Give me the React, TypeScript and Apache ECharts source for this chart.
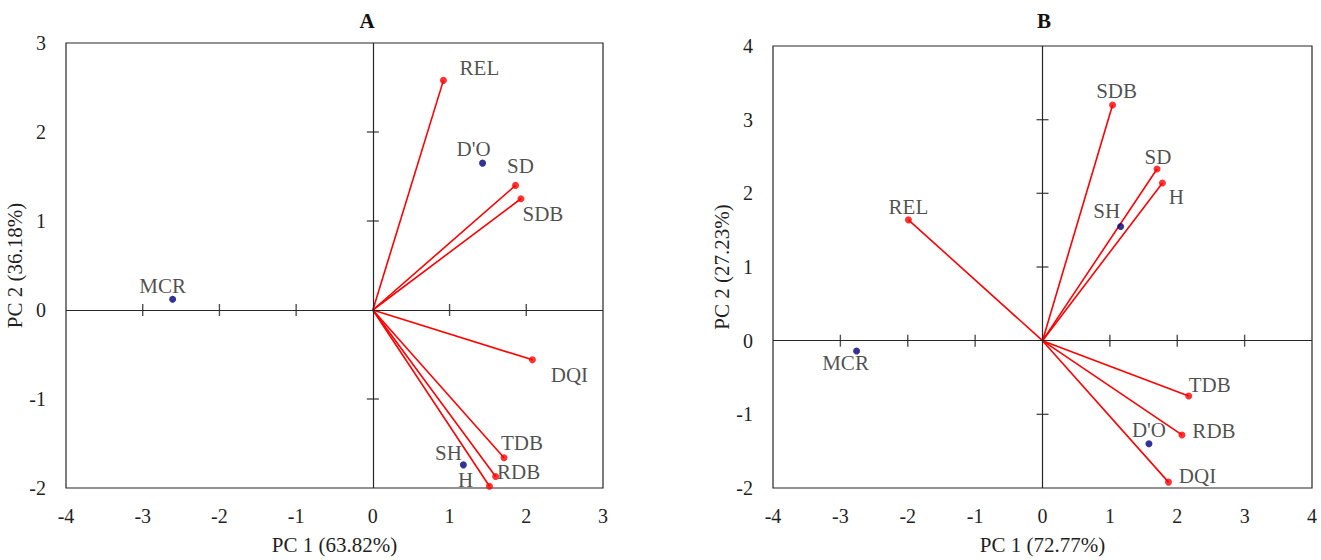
import { useEffect, useRef } from 'react';
import * as echarts from 'echarts';

// Panel A data
const varNamesA = ['REL', 'SD', 'SDB', 'DQI', 'TDB', 'RDB', 'H'];
const varPC1A = [0.92, 1.86, 1.93, 2.08, 1.71, 1.6, 1.52];
const varPC2A = [2.58, 1.4, 1.25, -0.56, -1.66, -1.87, -1.98];
const objNamesA = ["D'O", 'SH', 'MCR'];
const objPC1A = [1.43, 1.18, -2.61];
const objPC2A = [1.65, -1.74, 0.12];

// Panel B data
const varNamesB = ['SDB', 'SD', 'H', 'REL', 'TDB', 'RDB', 'DQI'];
const varPC1B = [1.04, 1.7, 1.78, -1.99, 2.17, 2.07, 1.87];
const varPC2B = [3.2, 2.33, 2.14, 1.64, -0.75, -1.28, -1.92];
const objNamesB = ['SH', "D'O", 'MCR'];
const objPC1B = [1.16, 1.58, -2.76];
const objPC2B = [1.55, -1.4, -0.14];

// Tick marks on the zero axes
const xTicksA = [-3, -2, -1, 1, 2];
const yTicksA = [2, 1, -1];
const xTicksB = [-3, -2, -1, 1, 2, 3];
const yTicksB = [3, 2, 1, -1];

// label offsets (style)
const offA: Record<string, number[]> = {
  REL: [36, -12], SD: [5, -19], SDB: [22, 15], DQI: [37, 15], TDB: [18, -15], RDB: [23, -4], H: [-24, -6],
  "D'O": [-9, -14], SH: [-15, -12], MCR: [-10, -13],
};
const offB: Record<string, number[]> = {
  SDB: [4, -14], SD: [1, -12], H: [14, 14], REL: [0, -13], TDB: [21, -11], RDB: [32, -4], DQI: [29, -6],
  SH: [-14, -15], "D'O": [0, -14], MCR: [-11, 12],
};

const FONT = '"Liberation Serif", "Times New Roman", serif';
const TXT = '#1f1f1f';
const LINE = '#262626';

function panelSeries(
  gi: number,
  vn: string[], vx: number[], vy: number[],
  on: string[], ox: number[], oy: number[],
  xt: number[], yt: number[],
  off: Record<string, number[]>
) {
  const labelBase = {
    show: true,
    formatter: '{b}',
    position: ['50%', '50%'],
    align: 'center',
    verticalAlign: 'middle',
    fontFamily: FONT,
    fontSize: 21,
    color: TXT,
  };
  return [
    {
      type: 'scatter',
      xAxisIndex: gi, yAxisIndex: gi,
      symbol: 'rect', symbolSize: [1.4, 12],
      itemStyle: { color: LINE },
      silent: true, z: 2,
      data: xt.map((v) => [v, 0]),
      markLine: {
        silent: true,
        symbol: ['none', 'none'],
        label: { show: false },
        lineStyle: { color: LINE, type: 'solid', width: 1.2 },
        data: [{ xAxis: 0 }, { yAxis: 0 }],
      },
    },
    {
      type: 'scatter',
      xAxisIndex: gi, yAxisIndex: gi,
      symbol: 'rect', symbolSize: [12, 1.4],
      itemStyle: { color: LINE },
      silent: true, z: 2,
      data: yt.map((v) => [0, v]),
    },
    {
      type: 'lines',
      coordinateSystem: 'cartesian2d',
      xAxisIndex: gi, yAxisIndex: gi,
      silent: true, z: 3,
      lineStyle: { color: '#ff0000', width: 1.6, opacity: 1 },
      data: vn.map((n, i) => ({ name: n, coords: [[0, 0], [vx[i], vy[i]]] })),
    },
    {
      type: 'scatter',
      xAxisIndex: gi, yAxisIndex: gi,
      symbolSize: 7, silent: true, z: 4,
      itemStyle: { color: '#ff0000' },
      label: labelBase,
      data: vn.map((n, i) => ({ name: n, value: [vx[i], vy[i]], label: { offset: off[n] } })),
    },
    {
      type: 'scatter',
      xAxisIndex: gi, yAxisIndex: gi,
      symbolSize: 7, silent: true, z: 4,
      itemStyle: { color: '#00007a' },
      label: labelBase,
      data: on.map((n, i) => ({ name: n, value: [ox[i], oy[i]], label: { offset: off[n] } })),
    },
  ];
}

function axis(gi: number, min: number, max: number, name: string, gap: number, isY: boolean) {
  return {
    gridIndex: gi,
    type: 'value',
    min, max, interval: 1,
    axisLine: { show: false, onZero: false },
    axisTick: { show: false },
    splitLine: { show: false },
    axisLabel: { fontFamily: FONT, fontSize: 20, color: TXT, margin: isY ? 20 : 18 },
    name,
    nameLocation: 'middle',
    nameGap: gap,
    nameTextStyle: { fontFamily: FONT, fontSize: 21, color: TXT },
  };
}

export default function App() {
  const ref = useRef<HTMLDivElement>(null);
  useEffect(() => {
    if (!ref.current) return;
    const chart = echarts.init(ref.current, undefined, { renderer: 'svg' });
    chart.setOption({
      animation: false,
      backgroundColor: '#fff',
      grid: [
        { left: 66, top: 43, width: 537, height: 448, show: true, borderColor: LINE, borderWidth: 1.2, backgroundColor: 'transparent' },
        { left: 773, top: 46, width: 539, height: 444, show: true, borderColor: LINE, borderWidth: 1.2, backgroundColor: 'transparent' },
      ],
      xAxis: [
        axis(0, -4, 3, 'PC 1 (63.82%)', 46, false),
        axis(1, -4, 4, 'PC 1 (72.77%)', 46, false),
      ],
      yAxis: [
        axis(0, -2, 3, 'PC 2 (36.18%)', 24, true),
        axis(1, -2, 4, 'PC 2 (27.23%)', 34, true),
      ],
      graphic: [
        { type: 'text', x: 367, y: 21, style: { text: 'A', font: `bold 21px ${FONT}`, fill: '#111', align: 'center', verticalAlign: 'middle', textAlign: 'center', textVerticalAlign: 'middle' } },
        { type: 'text', x: 1044, y: 21, style: { text: 'B', font: `bold 21px ${FONT}`, fill: '#111', align: 'center', verticalAlign: 'middle', textAlign: 'center', textVerticalAlign: 'middle' } },
      ],
      series: [
        ...panelSeries(0, varNamesA, varPC1A, varPC2A, objNamesA, objPC1A, objPC2A, xTicksA, yTicksA, offA),
        ...panelSeries(1, varNamesB, varPC1B, varPC2B, objNamesB, objPC1B, objPC2B, xTicksB, yTicksB, offB),
      ],
    });
    return () => chart.dispose();
  }, []);
  return <div ref={ref} style={{ position: 'fixed', left: 0, top: 0, width: 1321, height: 560 }} />;
}
